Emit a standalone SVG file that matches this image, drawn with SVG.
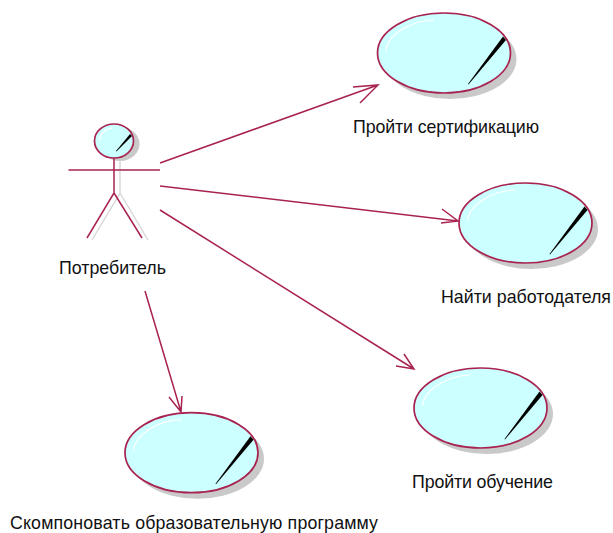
<svg xmlns="http://www.w3.org/2000/svg" xmlns:xlink="http://www.w3.org/1999/xlink" width="613" height="533" viewBox="0 0 613 533">
<style>
.line{fill:none;stroke:#a8234f;stroke-width:1.5}
.shadow{fill:#c9c9c9;stroke:none}
.shline{fill:none;stroke:#d6d6d6;stroke-width:1.4}
.body{fill:#ccffff;stroke:#a8234f;stroke-width:1.7}
.hl{fill:none;stroke:#fff;stroke-width:1.2}
.label{font-family:"Liberation Sans",Arial,sans-serif;font-size:17.800px;fill:#111}
</style>
<defs>
<g id="uc">
<ellipse class="shadow" cx="6" cy="6" rx="66.5" ry="40"/>
<ellipse class="body" cx="0" cy="0" rx="66.5" ry="40"/>
<path class="hl" d="M-58,-2 C-56,-20 -30,-33 -10,-33"/>
<polygon points="24,31 59,-16.500 62,-13 24.500,31.500" fill="#000"/>
</g>
</defs>
<rect width="613" height="533" fill="#fff"/>
<g id="connectors">
<path class="line" d="M160,163 L378,85 M353,87 L378,85 L360,103"/>
<path class="line" d="M160,186 L458,221 M442,209 L458,221 L441,223"/>
<path class="line" d="M160,210 L414,369 M404,354 L414,369 L396,366"/>
<path class="line" d="M145,291 L181,412 M169,397 L181,412 L182,396"/>
</g>
<g id="actor">
<ellipse class="shadow" cx="120" cy="144" rx="19.500" ry="17"/>
<path class="shline" d="M120,160 V193 L92,240 M120,193 L148,240"/>
<ellipse class="body" cx="114" cy="141" rx="19.500" ry="17"/>
<path class="hl" d="M100,140 C100,133 106,129 112,128"/>
<polygon points="116,151 130,134 132,136 116.500,151.500" fill="#000"/>
<path class="line" d="M68.500,170 H160 M114,158 V193 L87,238 M114,193 L142,238"/>
<text class="label" x="59" y="274">Потребитель</text>
</g>
<g id="uc1"><use xlink:href="#uc" href="#uc" x="444" y="53"/><text class="label" x="353" y="133" textLength="186">Пройти сертификацию</text></g>
<g id="uc2"><use xlink:href="#uc" href="#uc" x="525.500" y="223"/><text class="label" x="441" y="303" textLength="170">Найти работодателя</text></g>
<g id="uc3"><use xlink:href="#uc" href="#uc" x="480.500" y="408"/><text class="label" x="412" y="488" textLength="141">Пройти обучение</text></g>
<g id="uc4"><use xlink:href="#uc" href="#uc" x="191.500" y="452.700"/><text class="label" x="10" y="529" textLength="368">Скомпоновать образовательную программу</text></g>
</svg>
